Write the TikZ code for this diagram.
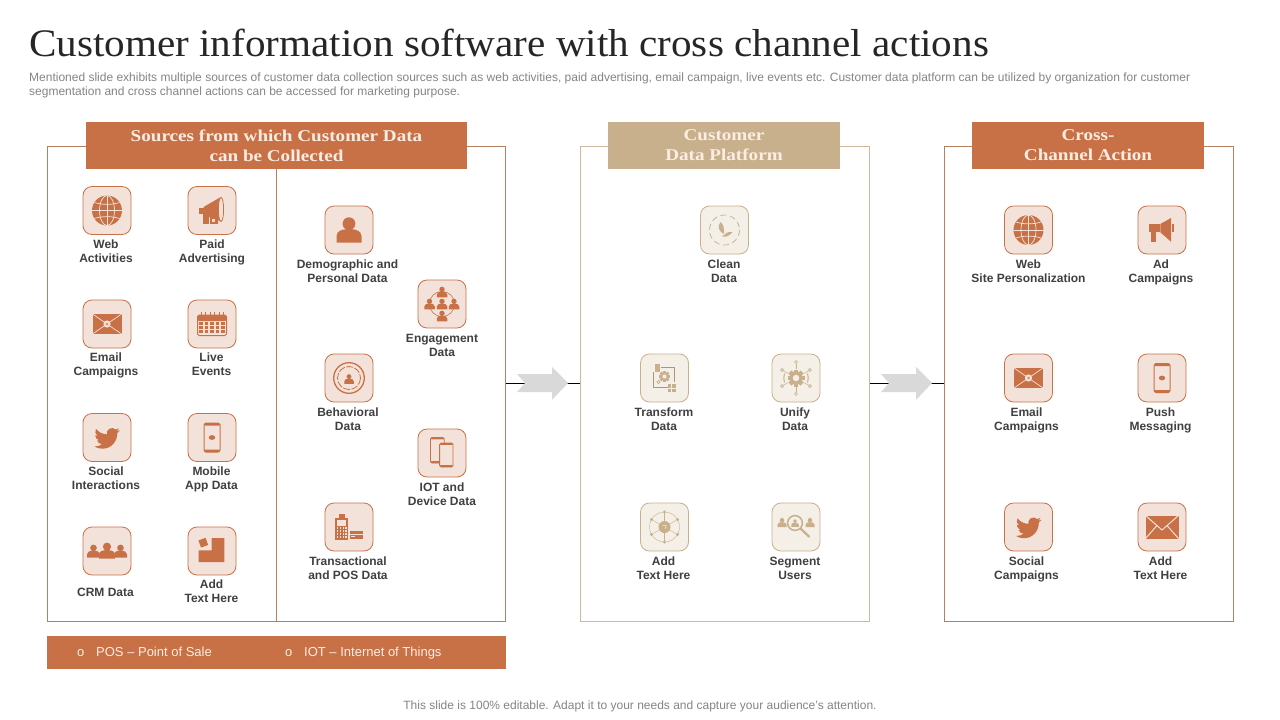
\documentclass[tikz,border=0pt]{standalone}
\usepackage{fontspec}
\setmainfont{Liberation Sans}
\newfontfamily\serifT[FakeStretch=1.055]{Liberation Serif}
\newfontfamily\serifH[FakeStretch=1.16]{Liberation Serif}
\usetikzlibrary{calc}
\definecolor{ic}{HTML}{C87147}
\definecolor{tc}{HTML}{C9B08C}
\definecolor{obg}{HTML}{F3E2D9}
\definecolor{tbg}{HTML}{F4EFE7}
\definecolor{obr}{HTML}{B5805F}
\definecolor{tbr}{HTML}{CDB99C}
\definecolor{labc}{HTML}{404040}
\definecolor{titlec}{HTML}{262626}
\definecolor{subc}{HTML}{858585}
\definecolor{arrc}{HTML}{D9D9D9}
\definecolor{barT}{HTML}{FBEDE3}
\tikzset{
  iconbase/.style={rectangle,rounded corners=9pt,minimum width=48pt,minimum height=48pt,inner sep=0pt,line width=.8pt},
  obox/.style={iconbase,draw=ic,fill=obg},
  tbox/.style={iconbase,draw=tc,fill=tbg},
  lab/.style={align=center,inner sep=0pt,text=labc,yshift=-1.75pt,font=\fontsize{12}{14}\selectfont\bfseries,
    execute at begin node={\rule{0pt}{10pt}},execute at end node={\rule[-3.5pt]{0pt}{3.5pt}}},
  panelO/.style={rectangle,draw=obr,line width=.9pt,inner sep=0pt},
  panelT/.style={rectangle,draw=tbr,line width=.9pt,inner sep=0pt},
  hdr/.style={rectangle,inner sep=0pt,align=center,text=barT,font=\fontsize{16.5}{20}\selectfont\serifH\bfseries},
  bartext/.style={inner sep=0pt,anchor=base west,text=barT,font=\fontsize{13}{15}\selectfont},
  pics/person/.style={code={
    \fill[#1] (0,-6.3) circle (6.4);
    \fill[#1] (-12.5,12.5) -- (-12.5,6) .. controls (-12.5,1) and (-7,-1) .. (0,-1) .. controls (7,-1) and (12.5,1) .. (12.5,6) -- (12.5,12.5) -- cycle;
  }},
  pics/globe/.style={code={
    \fill[ic] (0,0) circle (15);
    \draw[obg,line width=.7pt] (0,-15) -- (0,15) (-15,0) -- (15,0);
    \draw[obg,line width=.7pt] (0,0) ellipse [x radius=7.5,y radius=15];
    \draw[obg,line width=.7pt] (-12.5,-8) .. controls (-5,-5.5) and (5,-5.5) .. (12.5,-8);
    \draw[obg,line width=.7pt] (-12.5,8) .. controls (-5,5.5) and (5,5.5) .. (12.5,8);
  }},
  pics/paidmega/.style={code={
    \fill[ic] (-8.5,-3.5) -- (8,-13) -- (8,10.5) -- (-8.5,4.5) -- cycle;
    \fill[ic] (-13,-3) rectangle (-8,3);
    \fill[ic] (-9,2) rectangle (-3,13);
    \draw[ic,fill=obg,line width=.8pt] (9,-1) ellipse [x radius=2.6,y radius=12];
    \fill[ic] (-2,6.5) rectangle (5.5,13);
    \fill[obg] (0,8.7) rectangle (3.2,11);
  }},
  pics/mail/.style={code={
    \fill[ic] (-14.5,-10) rectangle (14.5,10);
    \draw[obg,line width=.7pt] (-14.5,-10) -- (14.5,10) (14.5,-10) -- (-14.5,10);
    \fill[obg] (0,0) circle (3.6);
    \fill[ic!70!obg] (0,0) circle (1.5);
  }},
  pics/calendar/.style={code={
    \draw[ic,line width=1pt,rounded corners=1.5pt] (-14.5,-9) rectangle (14.5,11.5);
    \fill[ic,rounded corners=1.5pt] (-14.5,-9) rectangle (14.5,-3);
    \foreach \x in {-11,-6.5,...,11.5} \fill[ic] (\x-.5,-12) rectangle (\x+.5,-8);
    \foreach \x in {-11,-5.5,0,5.5,11} \foreach \y in {-.5,3.5,7.5}
      \fill[ic] (\x-1.9,\y-1.3) rectangle (\x+1.9,\y+1.3);
  }},
  pics/twbird/.style={code={
    \begin{scope}[shift={(-12.8,-12)},x=1.07pt,y=-1.07pt]
    \fill[ic] (23.95,4.57) .. controls (23.05,4.97) and (22.1,5.23) .. (21.13,5.35)
      .. controls (22.15,4.74) and (22.93,3.77) .. (23.29,2.62)
      .. controls (22.34,3.18) and (21.29,3.58) .. (20.16,3.81)
      .. controls (18.7,2.2) and (16.2,1.9) .. (14.2,3.0)
      .. controls (12.4,4.0) and (11.4,6.2) .. (11.78,8.29)
      .. controls (7.69,8.1) and (4.07,6.13) .. (1.64,3.16)
      .. controls (.3,5.4) and (.95,8.3) .. (3.16,9.73)
      .. controls (2.38,9.71) and (1.62,9.5) .. (.93,9.12)
      .. controls (.93,11.4) and (2.55,13.45) .. (4.88,13.94)
      .. controls (4.15,14.14) and (3.4,14.17) .. (2.67,14.03)
      .. controls (3.3,16) and (5.15,17.4) .. (7.27,17.44)
      .. controls (5.5,18.8) and (3.4,19.55) .. (1.17,19.55)
      .. controls (.78,19.55) and (.39,19.53) .. (0,19.48)
      .. controls (2.25,20.93) and (4.9,21.69) .. (7.56,21.69)
      .. controls (16.6,21.69) and (21.56,14.2) .. (21.56,7.7)
      .. controls (21.56,7.49) and (21.56,7.28) .. (21.55,7.07)
      .. controls (22.5,6.37) and (23.35,5.53) .. (24,4.59) -- cycle;
    \end{scope}
  }},
  pics/phone/.style={code={
    \draw[ic,line width=1pt,rounded corners=1.8pt] (-8,-14.5) rectangle (8,14.5);
    \fill[ic,rounded corners=1pt] (-8,-14.5) rectangle (8,-12);
    \fill[ic,rounded corners=1pt] (-8,12) rectangle (8,14.5);
    \fill[ic] (0,0) ellipse [x radius=3.2,y radius=2.4];
  }},
  pics/crm/.style={code={
    \pic[scale=.52] at (-13.5,.2) {person=ic};
    \pic[scale=.52] at (13.5,.2) {person=ic};
    \pic[scale=.64] at (0,-.3) {person=ic};
  }},
  pics/addbox/.style={code={
    \fill[ic] (-13.3,-.7) -- (-.3,-.7) -- (-.3,-13) -- (12.3,-13) -- (12.3,11) -- (-13.3,11) -- cycle;
    \fill[ic,rotate around={20:(-8.7,-8.3)}] (-12.5,-12.1) rectangle (-4.9,-4.5);
  }},
  pics/engage/.style={code={
    \draw[ic,line width=.6pt] (0,0) circle (12.6);
    \foreach \p in {(0,-12),(-12.5,0),(12,0),(0,0),(0,12)}
      \pic[scale=.42] at \p {person=ic};
  }},
  pics/behave/.style={code={
    \draw[ic,line width=1.3pt] (0,0) circle (15.3);
    \draw[ic,line width=.8pt,dash pattern=on 7pt off 1.5pt] (0,0) circle (11.5);
    \pic[scale=.38] at (0,1) {person=ic};
  }},
  pics/twophones/.style={code={
    \draw[ic,line width=.8pt,rounded corners=1.5pt] (-11.5,-15.5) rectangle (2.3,10);
    \fill[ic,rounded corners=1pt] (-11.5,-15.5) rectangle (2.3,-13.7);
    \fill[ic,rounded corners=1pt] (-11.5,8.2) rectangle (2.3,10);
    \draw[ic,fill=obg,line width=.8pt,rounded corners=1.5pt] (-2.4,-10) rectangle (11,14);
    \fill[ic,rounded corners=1pt] (-2.4,-10) rectangle (11,-8.2);
    \fill[ic,rounded corners=1pt] (-2.4,12.2) rectangle (11,14);
  }},
  pics/pos/.style={code={
    \fill[ic] (-14,-9.5) rectangle (-.7,12.7);
    \fill[ic] (-10,-13.3) rectangle (-4.5,-9.5);
    \fill[obg] (-11.8,-6.8) rectangle (-3,-1);
    \foreach \x in {-11.5,-8.5,-5.5,-2.8} \foreach \y in {1.3,4.3,7.3,10.3}
      \fill[obg] (\x-.9,\y-.9) rectangle (\x+.9,\y+.9);
    \fill[ic] (.6,4.3) rectangle (13.5,12.3);
    \draw[obg,line width=.6pt] (.6,7) -- (13.5,7);
    \fill[obg] (2,9) rectangle (6,10.4);
  }},
  pics/gear/.style={code={
    \foreach \a in {0,45,...,315}
      \fill[tc,rotate=\a] (-#1*.25,-#1) rectangle (#1*.25,0);
    \fill[tc] (0,0) circle (#1*.78);
    \fill[tbg] (0,0) circle (#1*.38);
  }},
  pics/clean/.style={code={
    \draw[tc!75!black!60!tbg,line width=.7pt,dash pattern=on 6pt off 3.5pt] (0,0) circle (15);
    \fill[tc] (-4,-8) .. controls (-8,-3) and (-5,2) .. (-.5,4) .. controls (0,-1) and (-1,-6) .. (-4,-8) -- cycle;
    \fill[tc] (-3,6) .. controls (1,8) and (5,6) .. (8,2) .. controls (5,1.5) and (2,2) .. (0,5) -- cycle;
  }},
  pics/transform/.style={code={
    \draw[tc!85!black,line width=.5pt] (-4,-10.5) -- (10,-10.5) -- (10,4);
    \draw[tc!85!black,line width=.5pt] (-11,-6) -- (-11,9) -- (3,9);
    \fill[tc] (-9.5,-14.5) rectangle (-4.5,-6.5);
    \fill[tc] (3,6) rectangle (11,14);
    \draw[tbg,line width=.4pt] (3,10) -- (11,10) (7,6) -- (7,14);
    \pic at (0,-1.5) {gear=5.5};
    \draw[tc,line width=.6pt] (-6,4) circle (1.6);
  }},
  pics/unify/.style={code={
    \foreach \a in {30,90,...,330} {
      \draw[tc,line width=.5pt] (\a:9) -- (\a:14.5);
      \draw[tc,line width=.6pt] (\a:16) circle (1.5);
    }
    \draw[tc,line width=1pt] (-11.5,-4.5) .. controls (-12.5,-1.5) and (-12.5,1.5) .. (-11.5,4.5);
    \draw[tc,line width=1pt] (11.5,-4.5) .. controls (12.5,-1.5) and (12.5,1.5) .. (11.5,4.5);
    \pic at (0,0) {gear=8.5};
  }},
  pics/hub/.style={code={
    \draw[tc,line width=.4pt] (0,0) circle (15);
    \foreach \a in {30,90,...,330} {
      \draw[tc,line width=.4pt] (0,0) -- (\a:15);
      \fill[tc] (\a:15) circle (1.6);
    }
    \fill[tc] (0,0) circle (6);
    \draw[tbg,line width=.5pt] (-2,-1.5) -- (2,-1.5) -- (.5,2);
  }},
  pics/segment/.style={code={
    \pic[scale=.36] at (-14,-4.5) {person=tc};
    \pic[scale=.36] at (14,-4.5) {person=tc};
    \draw[tc,line width=2.2pt,line cap=round] (4.5,1.5) -- (13,9.5);
    \draw[tc,fill=tbg,line width=1.5pt] (-1,-4) circle (7.4);
    \pic[scale=.3] at (-1,-4) {person=tc};
  }},
  pics/bullhorn/.style={code={
    \fill[ic] (-12.7,-6) rectangle (-2.2,2.3);
    \fill[ic] (-1.7,-6) -- (9,-12) -- (9,11.7) -- (-1.7,2.3) -- cycle;
    \fill[ic] (9.7,-6) rectangle (12.3,2.3);
    \fill[ic] (-10.7,2.3) rectangle (-6.3,11.7);
  }},
  pics/bigmail/.style={code={
    \fill[ic] (-16.5,-11.5) rectangle (16.5,11.5);
    \draw[obg,line width=1pt,line join=round] (-16.5,-11.5) -- (0,3) -- (16.5,-11.5);
    \draw[obg,line width=1pt] (-16.5,11.5) -- (-5,-1.5) (16.5,11.5) -- (5,-1.5);
  }},
  pics/flowarrow/.style={code={
    \fill[arrc] (-25,-9) -- (10,-9) -- (10,-16) -- (26,0) -- (10,17) -- (10,9) -- (-25,9) -- (-17,0) -- cycle;
  }}
}
\begin{document}
\begin{tikzpicture}[x=1pt,y=-1pt]
\useasboundingbox (0,0) rectangle (1280,720);
\fill[white] (0,0) rectangle (1280,720);

\node[anchor=base west,inner sep=0pt,text=titlec,font=\fontsize{39}{44}\selectfont\serifT] (title) at (29,56) {Customer information software with cross channel actions};
\node[anchor=north west,inner sep=0pt,align=left,text=subc,font=\fontsize{12}{14}\selectfont] (sub) at (29,73) {Mentioned slide exhibits multiple sources of customer data collection sources such as web activities, paid advertising, email campaign, live events etc. Customer data platform can be utilized by organization for customer\\segmentation and cross channel actions can be accessed for marketing purpose.};

% panels
\node[panelO,minimum width=458pt,minimum height=475pt] (pa) at (276.4,383.5) {};
\node[panelT,minimum width=289.5pt,minimum height=475pt] (pb) at (724.7,383.5) {};
\node[panelO,minimum width=289.5pt,minimum height=475pt] (pc) at (1088.7,383.5) {};

% connectors and arrows
\coordinate (arrA) at (542,383);
\coordinate (arrB) at (906,383);
\draw[black,line width=.9pt] (pa.east |- arrA) -- (pb.west |- arrA);
\draw[black,line width=.9pt] (pb.east |- arrB) -- (pc.west |- arrB);
\pic at (arrA) {flowarrow};
\pic at (arrB) {flowarrow};

% headers
\node[hdr,fill=ic,minimum width=381pt,minimum height=47pt] (ha) at (276.5,145.5) {Sources from which Customer Data\\can be Collected};
\node[hdr,fill=tc,minimum width=232pt,minimum height=47pt] (hb) at (724,145.5) {Customer\\Data Platform};
\node[hdr,fill=ic,minimum width=232pt,minimum height=47pt] (hc) at (1088,145.5) {Cross-\\Channel Action};
\draw[obr,line width=.9pt] (ha.south) -- (ha.south |- pa.south);

% bottom bar
\node[rectangle,fill=ic,minimum width=459pt,minimum height=33pt,inner sep=0pt] (bar) at (276.5,652.5) {};
\node[bartext] (b1) at (77,656.5) {o};
\node[bartext] (b2) at (96,656.5) {POS – Point of Sale};
\node[bartext] (b3) at (285,656.5) {o};
\node[bartext] (b4) at (304,656.5) {IOT – Internet of Things};

% left column group
\node[obox] (n1) at (107,210.5) {}; \pic at (n1) {globe};
\node[lab] (l1) at (106,251.5) {Web\\Activities};
\node[obox] (n2) at (212,210.5) {}; \pic at (n2) {paidmega};
\node[lab] (l2) at (212,251.5) {Paid\\Advertising};
\node[obox] (n3) at (107,324) {}; \pic at (n3) {mail};
\node[lab] (l3) at (106,364.5) {Email\\Campaigns};
\node[obox] (n4) at (212,324) {}; \pic at (n4) {calendar};
\node[lab] (l4) at (211.5,364.5) {Live\\Events};
\node[obox] (n5) at (107,437.5) {}; \pic at (n5) {twbird};
\node[lab] (l5) at (106,478.5) {Social\\Interactions};
\node[obox] (n6) at (212,437.5) {}; \pic at (n6) {phone};
\node[lab] (l6) at (211.5,478.5) {Mobile\\App Data};
\node[obox] (n7) at (107,551) {}; \pic at (n7) {crm};
\node[lab] (l7) at (105.5,591.5) {CRM Data};
\node[obox] (n8) at (212,551) {}; \pic at (n8) {addbox};
\node[lab] (l8) at (211.5,591.5) {Add\\Text Here};

% second group
\node[obox] (n9) at (349,230) {}; \pic at (n9) {person=ic};
\node[lab] (l9) at (347.5,271) {Demographic and\\Personal Data};
\node[obox] (n10) at (442,304) {}; \pic at (n10) {engage};
\node[lab] (l10) at (442,345) {Engagement\\Data};
\node[obox] (n11) at (349,378) {}; \pic at (n11) {behave};
\node[lab] (l11) at (348,419) {Behavioral\\Data};
\node[obox] (n12) at (442,453) {}; \pic at (n12) {twophones};
\node[lab] (l12) at (442,494) {IOT and\\Device Data};
\node[obox] (n13) at (349,527) {}; \pic at (n13) {pos};
\node[lab] (l13) at (348,568) {Transactional\\and POS Data};

% platform
\node[tbox] (t1) at (724.5,230) {}; \pic at (t1) {clean};
\node[lab] (m1) at (724,271) {Clean\\Data};
\node[tbox] (t2) at (664.5,378) {}; \pic at (t2) {transform};
\node[lab] (m2) at (664,419) {Transform\\Data};
\node[tbox] (t3) at (796,378) {}; \pic at (t3) {unify};
\node[lab] (m3) at (795,419) {Unify\\Data};
\node[tbox] (t4) at (664.5,527) {}; \pic at (t4) {hub};
\node[lab] (m4) at (663.5,568) {Add\\Text Here};
\node[tbox] (t5) at (796,527) {}; \pic at (t5) {segment};
\node[lab] (m5) at (795,568) {Segment\\Users};

% actions
\node[obox] (c1) at (1028.5,230) {}; \pic at (c1) {globe};
\node[lab] (k1) at (1028.5,271) {Web\\Site Personalization};
\node[obox] (c2) at (1162,230) {}; \pic at (c2) {bullhorn};
\node[lab] (k2) at (1161,271) {Ad\\Campaigns};
\node[obox] (c3) at (1028.5,378) {}; \pic at (c3) {mail};
\node[lab] (k3) at (1026.5,419) {Email\\Campaigns};
\node[obox] (c4) at (1162,378) {}; \pic at (c4) {phone};
\node[lab] (k4) at (1160.5,419) {Push\\Messaging};
\node[obox] (c5) at (1028.5,527) {}; \pic at (c5) {twbird};
\node[lab] (k5) at (1026.5,568) {Social\\Campaigns};
\node[obox] (c6) at (1162,527) {}; \pic at (c6) {bigmail};
\node[lab] (k6) at (1160.5,568) {Add\\Text Here};

\node[inner sep=0pt,text=subc,font=\fontsize{12}{14}\selectfont] (foot) at (640,706) {This slide is 100\% editable. Adapt it to your needs and capture your audience's attention.};
\end{tikzpicture}
\end{document}
